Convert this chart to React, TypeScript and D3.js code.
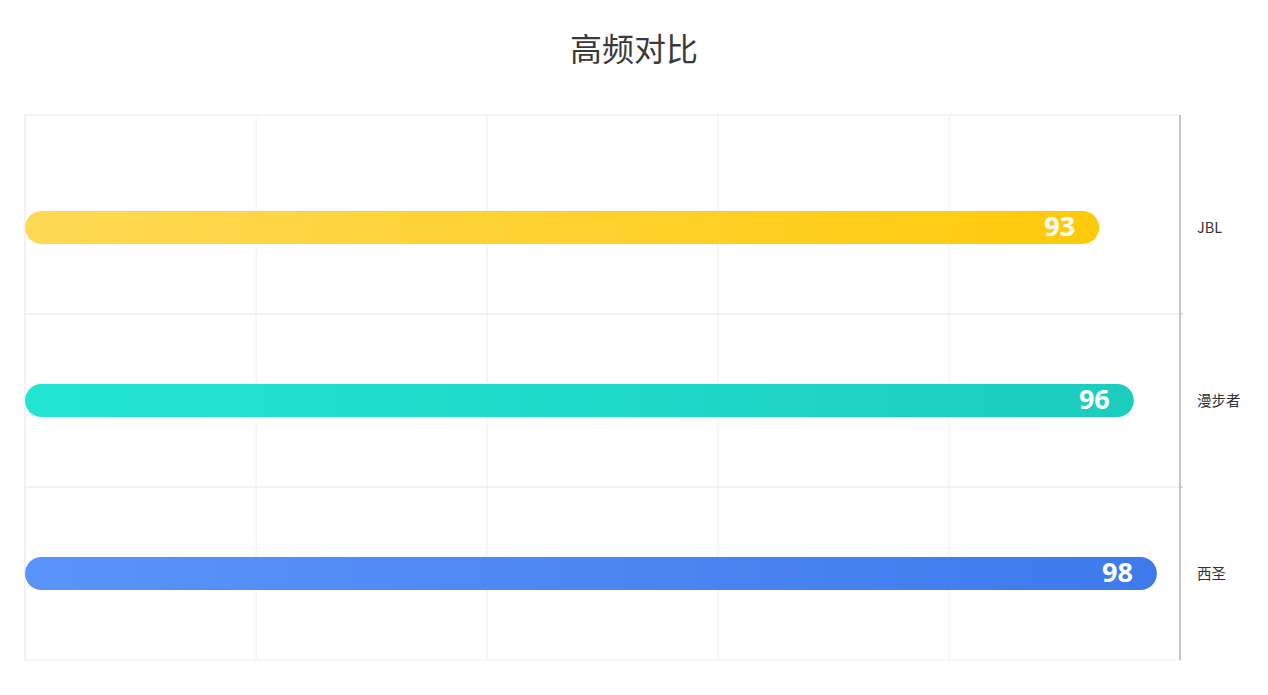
import React, { useEffect, useRef } from 'react';
import * as d3 from 'd3';

// data
const categories = ['西圣', '漫步者', 'JBL'];
const values = [98, 96, 93];
const gradients = [
  ['#5A93F9', '#3E7AEC'],
  ['#22E5D3', '#1BCDBF'],
  ['#FED955', '#FFCA0A'],
];
const xTicks = [0, 20, 40, 60, 80, 100];

const W = 1268;
const H = 695;

const App = () => {
  const svgRef = useRef<SVGSVGElement>(null);

  useEffect(() => {
    document.body.style.margin = '0';

    const margin = { left: 25, right: 88, top: 115, bottom: 35 };
    const width = W - margin.left - margin.right;
    const height = H - margin.top - margin.bottom;

    const svg = d3.select(svgRef.current);
    svg.selectAll('*').remove();

    // title
    svg
      .append('text')
      .attr('x', W / 2)
      .attr('y', 61)
      .attr('text-anchor', 'middle')
      .attr('font-size', '32px')
      .attr('fill', '#3a3a3a')
      .attr('font-family', '"Noto Sans CJK SC", sans-serif')
      .text('高频对比');

    const defs = svg.append('defs');
    gradients.forEach((c, i) => {
      const lg = defs
        .append('linearGradient')
        .attr('id', `grad${i}`)
        .attr('x1', '0%')
        .attr('x2', '100%')
        .attr('y1', '0%')
        .attr('y2', '0%');
      lg.append('stop').attr('offset', '0%').attr('stop-color', c[0]);
      lg.append('stop').attr('offset', '100%').attr('stop-color', c[1]);
    });

    const g = svg
      .append('g')
      .attr('transform', `translate(${margin.left}, ${margin.top})`);

    const x = d3.scaleLinear().domain([0, 100]).range([0, width]);

    // category bands sit at the bottom; band size
    const band = 173;
    const y = d3
      .scaleBand()
      .domain(categories)
      .range([height, height - band * categories.length]);

    // grid box
    g.append('rect')
      .attr('width', width)
      .attr('height', height)
      .attr('fill', 'none')
      .attr('stroke', '#eee');

    // vertical split lines
    g.selectAll('.vline')
      .data(xTicks)
      .enter()
      .append('line')
      .attr('x1', (d) => x(d))
      .attr('x2', (d) => x(d))
      .attr('y1', 0)
      .attr('y2', height)
      .attr('stroke', '#eee');

    // horizontal split lines between categories
    const splits = categories.slice(1).map((c) => (y(c) as number) + y.bandwidth());
    g.selectAll('.hline')
      .data(splits)
      .enter()
      .append('line')
      .attr('x1', 0)
      .attr('x2', width)
      .attr('y1', (d) => d)
      .attr('y2', (d) => d)
      .attr('stroke', '#e6e6e6');

    // right axis
    g.append('line')
      .attr('x1', width)
      .attr('x2', width)
      .attr('y1', 0)
      .attr('y2', height)
      .attr('stroke', '#999');
    g.selectAll('.tick')
      .data(splits)
      .enter()
      .append('line')
      .attr('x1', width)
      .attr('x2', width + 3)
      .attr('y1', (d) => d)
      .attr('y2', (d) => d)
      .attr('stroke', '#bbb');

    g.selectAll('.ylabel')
      .data(categories)
      .enter()
      .append('text')
      .attr('x', width + 17)
      .attr('y', (d) => (y(d) as number) + y.bandwidth() / 2)
      .attr('dy', '0.35em')
      .attr('font-size', '14.5px')
      .attr('fill', '#333')
      .attr('font-family', '"Noto Sans CJK SC", sans-serif')
      .text((d) => d);

    // bars
    const barH = 33;
    categories.forEach((c, i) => {
      const cy = (y(c) as number) + y.bandwidth() / 2;
      g.append('rect')
        .attr('x', x(0))
        .attr('y', cy - barH / 2)
        .attr('width', x(values[i]) - x(0))
        .attr('height', barH)
        .attr('rx', barH / 2)
        .attr('fill', `url(#grad${i})`);
      g.append('text')
        .attr('x', x(values[i]) - 24)
        .attr('y', cy - 1)
        .attr('dy', '0.36em')
        .attr('text-anchor', 'end')
        .attr('font-size', '27px')
        .attr('font-weight', 'bold')
        .attr('fill', '#fff')
        .attr('font-family', '"Open Sans", sans-serif')
        .text(values[i]);
    });
  }, []);

  return <svg ref={svgRef} width={W} height={H} style={{ display: 'block' }} />;
};

export default App;
